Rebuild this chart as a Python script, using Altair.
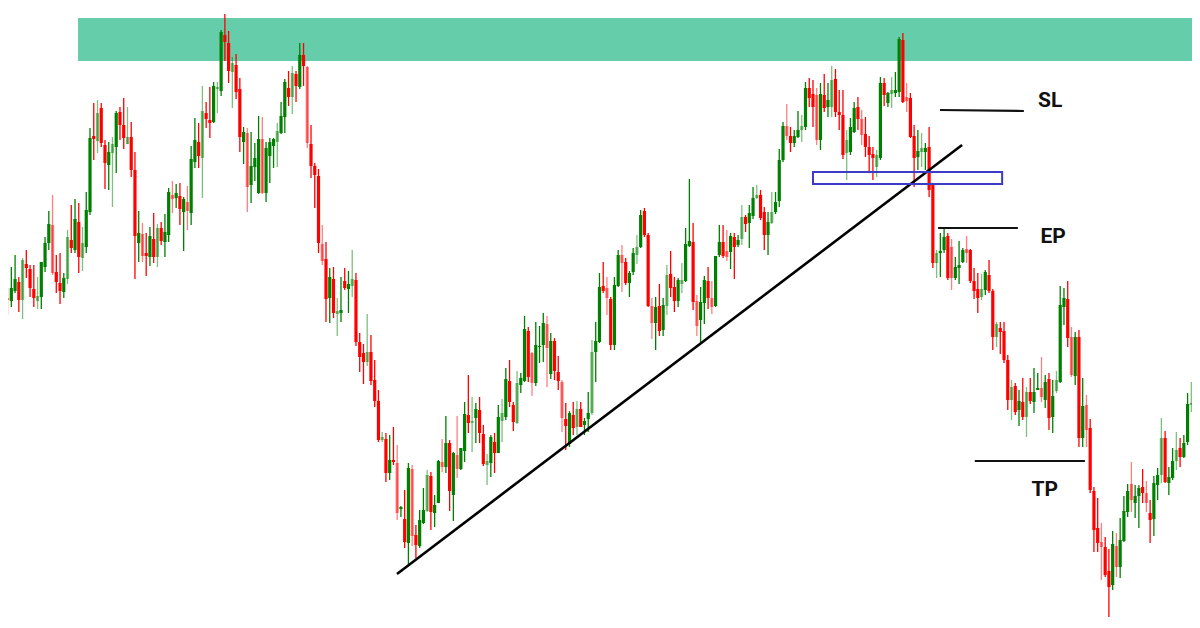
import altair as alt
import pandas as pd

# ---- candle data (price units) ----
open_ = [288,323,330,327,337,346,328,364,359,339,327,331,361,385,403,356,345,336,349,388,
         378,406,370,381,416,492,487,520,483,463,475,481,516,503,484,491,458,385,394,375,
         371,389,371,400,386,393,433,430,432,416,426,415,466,486,470,515,508,506,539,537,
         593,585,556,563,539,486,495,443,461,435,489,435,472,482,486,495,511,540,531,554,
         541,573,561,484,462,452,384,369,330,349,314,315,347,339,342,348,286,275,266,276,
         248,227,188,189,155,168,165,119,109,85,159,93,82,105,117,152,115,125,166,161,
         185,133,173,159,177,213,205,210,218,194,163,165,186,175,207,211,247,223,205,243,
         247,297,275,245,281,283,304,254,287,256,246,209,184,213,201,219,203,209,215,276,
         286,342,340,329,283,342,373,366,345,356,373,381,417,393,322,305,322,298,322,354,
         341,327,344,347,382,386,327,308,325,347,330,322,373,386,377,376,391,383,389,411,
         405,412,430,433,416,393,405,416,427,468,502,492,485,491,498,501,540,534,533,488,
         533,521,521,549,516,513,475,476,496,521,509,494,481,474,461,470,545,525,534,535,
         536,588,531,530,492,471,476,476,481,445,365,375,378,392,381,350,360,366,379,378,
         347,339,331,338,353,337,291,300,297,268,228,242,218,226,211,236,226,238,240,228,
         249,211,237,246,321,329,291,252,291,190,223,200,137,100,86,81,57,43,82,61,
         87,116,144,125,132,141,135,115,109,143,153,190,145,150,167,180,171,186,223,225,
         216]
high = [338,355,340,361,373,351,370,378,363,363,351,366,391,417,433,373,375,355,398,423,
        429,425,401,436,500,525,528,525,488,486,491,517,521,530,521,506,476,417,405,395,
        401,415,404,406,414,440,447,444,445,431,442,482,510,505,542,526,541,546,546,598,
        614,597,571,574,550,501,500,496,485,512,511,486,490,490,505,526,549,557,562,557,
        585,585,562,503,465,459,403,386,360,361,330,351,360,357,378,355,295,284,314,293,
        268,238,196,195,193,201,183,122,138,165,163,103,118,140,158,156,133,168,189,212,
        188,176,212,180,226,253,231,225,231,203,174,193,195,223,229,260,268,226,257,255,
        312,301,276,306,302,315,312,295,290,272,248,225,217,226,227,226,210,236,288,306,
        355,366,351,331,351,378,383,370,357,380,393,418,420,395,330,331,344,330,363,377,
        351,350,365,400,449,405,333,341,352,361,347,372,403,403,398,395,395,393,423,413,
        423,441,443,438,421,416,436,436,479,506,524,501,498,517,513,546,550,548,540,545,
        554,545,562,559,538,538,498,510,526,531,518,511,492,481,478,551,550,536,551,556,
        591,595,545,535,503,498,495,485,501,445,378,395,399,395,389,371,387,380,392,379,
        360,355,354,358,368,339,306,306,306,273,248,245,238,250,241,250,260,255,271,253,
        255,248,257,342,340,347,301,296,298,250,233,209,141,130,105,91,79,97,95,110,
        132,144,166,143,143,159,147,128,152,160,210,197,161,180,196,190,193,235,246,240,
        240]
low = [285,318,313,321,335,316,309,350,331,321,319,319,356,378,353,335,324,330,344,375,
       375,355,357,375,413,468,475,481,439,438,421,455,488,479,484,451,349,366,366,352,
       362,365,361,383,371,386,415,420,403,377,398,403,460,460,430,500,490,505,515,532,
       567,545,520,529,476,464,416,425,447,434,434,426,445,460,461,494,495,522,514,526,
       539,542,480,450,420,375,363,306,305,310,292,306,338,315,331,282,256,244,262,243,
       221,186,186,146,148,163,108,111,80,63,82,70,80,104,116,98,101,125,156,155,
       117,107,150,158,166,195,176,185,185,162,143,151,155,175,186,208,221,197,204,235,
       246,246,232,242,265,266,241,249,248,238,196,178,181,193,193,201,193,196,213,246,
       285,335,313,278,278,341,336,343,331,353,364,380,391,321,289,278,292,292,313,331,
       316,321,335,346,381,318,292,285,304,319,314,321,371,370,367,359,349,381,383,396,
       380,409,429,408,378,373,404,414,421,466,488,476,481,490,486,498,521,501,483,478,
       516,511,511,511,498,469,448,473,495,498,483,471,456,448,451,468,522,521,520,531,
       531,525,516,490,441,458,461,458,431,360,350,351,375,348,338,348,344,365,365,345,
       329,315,328,333,335,278,281,274,265,218,208,213,202,208,191,224,215,238,226,220,
       198,195,235,245,303,281,251,243,181,181,181,135,76,76,48,51,11,38,51,50,
       86,111,116,110,100,125,116,85,92,128,145,145,133,148,158,161,170,183,216,215,
       190]
close = [328,328,328,340,349,328,368,360,340,330,332,366,385,404,355,346,337,350,391,380,
         409,371,385,418,490,489,515,485,465,476,484,515,503,490,491,458,392,395,372,372,
         392,371,400,387,396,436,429,435,419,429,417,469,488,472,517,509,505,542,541,596,
         586,557,565,536,491,496,441,462,470,489,435,480,486,489,497,512,546,531,555,542,
         573,562,485,462,453,385,367,329,351,315,317,318,340,344,349,286,271,266,276,247,
         227,188,191,155,168,166,115,121,86,160,92,83,108,118,153,116,123,167,161,185,
         137,175,159,180,214,205,207,219,195,164,167,191,175,211,215,249,226,206,245,250,
         299,251,245,283,282,305,280,287,257,247,210,202,215,200,219,201,207,215,276,287,
         341,337,330,283,343,373,365,345,355,375,381,413,393,322,305,321,297,323,353,340,
         327,348,348,384,387,326,302,326,348,330,321,372,386,372,371,392,381,388,411,404,
         415,430,433,410,393,406,416,426,468,502,492,485,492,498,502,540,530,521,488,534,
         520,528,548,516,513,473,488,501,520,509,493,481,473,470,473,545,533,535,538,538,
         589,526,527,491,470,477,480,480,438,365,375,377,391,350,350,361,363,378,375,347,
         337,330,339,356,337,291,304,296,268,228,241,216,227,211,236,227,236,240,231,246,
         210,232,248,323,330,290,253,291,190,222,198,138,98,85,81,53,41,84,61,88,
         117,137,128,132,140,135,125,108,145,153,190,146,151,167,178,171,185,224,225,216,
         210]

# ---- annotation values (bar index / price units) ----
zone_bars = [20.8, 330.0]
zone_prices = [567, 610]
box_bars = [217.0, 267.5]
box_prices = [444, 456]
trend_bars = [105.95, 256.8]
trend_prices = [54, 483]
level_names = ["SL", "EP", "TP"]
level_start = [250.9, 250.4, 260.2]
level_end = [273.3, 271.7, 289.6]
level_price_start = [518, 400, 167]
level_price_end = [517, 400, 167]
label_bars = [280.3, 281.1, 278.9]
label_prices = [527, 391, 138]

n = len(open_)
df = pd.DataFrame({"bar": list(range(n)), "open": open_, "high": high,
                   "low": low, "close": close})
df["dir"] = ["up" if c >= o else "down" for o, c in zip(open_, close)]
df["shade"] = ["light" if i % 4 == 2 else "solid" for i in range(n)]

xscale = alt.Scale(domain=[2.109, 318.18], nice=False, zero=False, padding=0)
yscale = alt.Scale(domain=[8, 620], nice=False, zero=False, padding=0)

color = alt.Color("dir:N", scale=alt.Scale(domain=["up", "down"], range=["#008000", "#ff0000"]), legend=None)
opac = alt.Opacity("shade:N", scale=alt.Scale(domain=["solid", "light"], range=[1.0, 0.5]), legend=None)

zone_df = pd.DataFrame({"b1": [zone_bars[0]], "b2": [zone_bars[1]], "p1": [zone_prices[0]], "p2": [zone_prices[1]]})
zone = alt.Chart(zone_df).mark_rect(color="#66CDAA", clip=True).encode(
    x=alt.X("b1:Q", scale=xscale, axis=None), x2="b2:Q",
    y=alt.Y("p1:Q", scale=yscale, axis=None), y2="p2:Q")

wicks = alt.Chart(df).mark_rule(strokeWidth=1.3, clip=True).encode(
    x=alt.X("bar:Q", scale=xscale, axis=None),
    y=alt.Y("low:Q", scale=yscale, axis=None), y2="high:Q",
    color=color, opacity=opac)

bodies = alt.Chart(df).mark_bar(width=3.2, clip=True).encode(
    x=alt.X("bar:Q", scale=xscale, axis=None),
    y=alt.Y("open:Q", scale=yscale, axis=None), y2="close:Q",
    color=color, opacity=opac)

box_df = pd.DataFrame({"b1": [box_bars[0]], "b2": [box_bars[1]], "p1": [box_prices[0]], "p2": [box_prices[1]]})
box = alt.Chart(box_df).mark_rect(fill=None, fillOpacity=0, stroke="#3b3bc6", strokeWidth=2, clip=True).encode(
    x=alt.X("b1:Q", scale=xscale, axis=None), x2="b2:Q",
    y=alt.Y("p1:Q", scale=yscale, axis=None), y2="p2:Q")

trend_df = pd.DataFrame({"bar": trend_bars, "price": trend_prices})
trend = alt.Chart(trend_df).mark_line(color="#000000", strokeWidth=2.6, clip=True).encode(
    x=alt.X("bar:Q", scale=xscale, axis=None),
    y=alt.Y("price:Q", scale=yscale, axis=None))

lv_df = pd.DataFrame({"name": level_names, "b1": level_start, "b2": level_end,
                      "p1": level_price_start, "p2": level_price_end})
levels = alt.Chart(lv_df).mark_rule(color="#111111", strokeWidth=2.2, clip=True).encode(
    x=alt.X("b1:Q", scale=xscale, axis=None), x2="b2:Q",
    y=alt.Y("p1:Q", scale=yscale, axis=None), y2="p2:Q")

lab_df = pd.DataFrame({"name": level_names, "bar": label_bars, "price": label_prices})
labels = alt.Chart(lab_df).mark_text(font="Roboto", fontSize=21, fontWeight="bold",
                                     color="#111111", align="center", baseline="middle").encode(
    x=alt.X("bar:Q", scale=xscale, axis=None),
    y=alt.Y("price:Q", scale=yscale, axis=None),
    text="name:N")

chart = alt.layer(zone, wicks, bodies, trend, box, levels, labels).properties(
    width=1184, height=612, padding=0, background="#ffffff"
).configure_view(stroke=None)

chart.save("out.html", embed_options={"renderer": "svg", "actions": False})
